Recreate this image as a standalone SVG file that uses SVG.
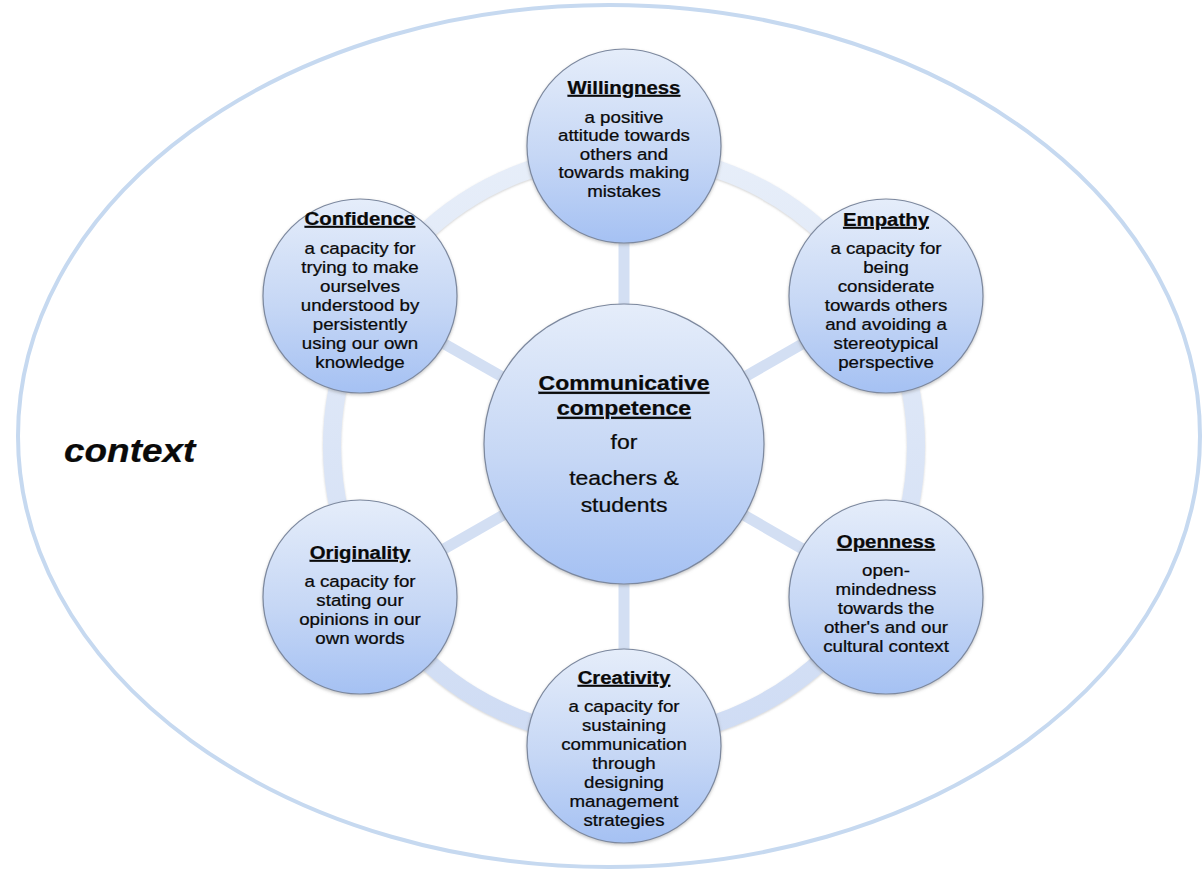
<svg xmlns="http://www.w3.org/2000/svg" width="1204" height="877" viewBox="0 0 1204 877">
<defs>
<linearGradient id="ball" x1="0" y1="0" x2="0" y2="1">
<stop offset="0" stop-color="#e5edfa"/>
<stop offset="0.55" stop-color="#c6d7f5"/>
<stop offset="1" stop-color="#a5c1f3"/>
</linearGradient>
<linearGradient id="ringg" gradientUnits="userSpaceOnUse" x1="0" y1="150" x2="0" y2="740">
<stop offset="0" stop-color="#e7eef9"/>
<stop offset="1" stop-color="#cfdcf4"/>
</linearGradient>
<filter id="sh" x="-10%" y="-10%" width="120%" height="120%">
<feDropShadow dx="0" dy="1.5" stdDeviation="1.5" flood-color="#7a7a7a" flood-opacity="0.45"/>
</filter>
<filter id="rsh" x="-10%" y="-10%" width="120%" height="120%">
<feDropShadow dx="0" dy="1" stdDeviation="1.2" flood-color="#8a8a8a" flood-opacity="0.4"/>
</filter>
</defs>
<style>
.ball{fill:url(#ball);stroke:#7c889e;stroke-width:1.2;filter:url(#sh)}
.spoke{stroke:#d3dff3;stroke-width:11;fill:none}
text{font-family:"Liberation Sans",Arial,sans-serif;fill:#0a0a0a;stroke:#0a0a0a;stroke-width:0.25;text-anchor:middle}
.t{font-weight:bold;font-size:18.5px;text-decoration:underline}
.b{font-size:17px}
.ct{font-weight:bold;font-size:20.5px;text-decoration:underline}
.cb{font-size:20.5px}
</style>
<rect width="1204" height="877" fill="#fff"/>
<ellipse cx="609" cy="436" rx="591" ry="431" fill="none" stroke="#c6d9f0" stroke-width="4"/>
<g id="context" transform="translate(64 0) scale(1.12 1)">
<text x="0" y="462" style="font-size:33px;font-weight:bold;font-style:italic;text-anchor:start">context</text>
</g>
<g id="connectors">
<circle cx="624" cy="446" r="292" fill="none" stroke="url(#ringg)" stroke-width="18" filter="url(#rsh)"/>
<line class="spoke" x1="624" y1="446" x2="624" y2="146"/>
<line class="spoke" x1="624" y1="446" x2="886" y2="296"/>
<line class="spoke" x1="624" y1="446" x2="886" y2="597"/>
<line class="spoke" x1="624" y1="446" x2="624" y2="746"/>
<line class="spoke" x1="624" y1="446" x2="360" y2="597"/>
<line class="spoke" x1="624" y1="446" x2="360" y2="296"/>
</g>
<g id="center">
<circle class="ball" cx="624" cy="444" r="140"/>
<g transform="translate(624 0) scale(1.12 1)">
<text class="ct" x="0" y="390">Communicative</text>
<text class="ct" x="0" y="415">competence</text>
<text class="cb" x="0" y="449">for</text>
<text class="cb" x="0" y="485">teachers &amp;</text>
<text class="cb" x="0" y="512">students</text>
</g>
</g>
<g id="willingness">
<circle class="ball" cx="624" cy="146" r="97"/>
<g transform="translate(624 0) scale(1.1 1)">
<text class="t" x="0" y="94">Willingness</text>
<text class="b" x="0" y="123">a positive</text>
<text class="b" x="0" y="141.5">attitude towards</text>
<text class="b" x="0" y="160">others and</text>
<text class="b" x="0" y="178.5">towards making</text>
<text class="b" x="0" y="197">mistakes</text>
</g>
</g>
<g id="empathy">
<circle class="ball" cx="886" cy="296" r="97"/>
<g transform="translate(886 0) scale(1.1 1)">
<text class="t" x="0" y="226">Empathy</text>
<text class="b" x="0" y="254">a capacity for</text>
<text class="b" x="0" y="273">being</text>
<text class="b" x="0" y="292">considerate</text>
<text class="b" x="0" y="311">towards others</text>
<text class="b" x="0" y="330">and avoiding a</text>
<text class="b" x="0" y="349">stereotypical</text>
<text class="b" x="0" y="368">perspective</text>
</g>
</g>
<g id="openness">
<circle class="ball" cx="886" cy="597" r="97"/>
<g transform="translate(886 0) scale(1.1 1)">
<text class="t" x="0" y="548">Openness</text>
<text class="b" x="0" y="576">open-</text>
<text class="b" x="0" y="595">mindedness</text>
<text class="b" x="0" y="614">towards the</text>
<text class="b" x="0" y="633">other's and our</text>
<text class="b" x="0" y="652">cultural context</text>
</g>
</g>
<g id="creativity">
<circle class="ball" cx="624" cy="746" r="97"/>
<g transform="translate(624 0) scale(1.1 1)">
<text class="t" x="0" y="684">Creativity</text>
<text class="b" x="0" y="712">a capacity for</text>
<text class="b" x="0" y="731">sustaining</text>
<text class="b" x="0" y="750">communication</text>
<text class="b" x="0" y="769">through</text>
<text class="b" x="0" y="788">designing</text>
<text class="b" x="0" y="807">management</text>
<text class="b" x="0" y="826">strategies</text>
</g>
</g>
<g id="originality">
<circle class="ball" cx="360" cy="597" r="97"/>
<g transform="translate(360 0) scale(1.1 1)">
<text class="t" x="0" y="559">Originality</text>
<text class="b" x="0" y="587">a capacity for</text>
<text class="b" x="0" y="606">stating our</text>
<text class="b" x="0" y="625">opinions in our</text>
<text class="b" x="0" y="644">own words</text>
</g>
</g>
<g id="confidence">
<circle class="ball" cx="360" cy="296" r="97"/>
<g transform="translate(360 0) scale(1.1 1)">
<text class="t" x="0" y="225">Confidence</text>
<text class="b" x="0" y="254">a capacity for</text>
<text class="b" x="0" y="273">trying to make</text>
<text class="b" x="0" y="292">ourselves</text>
<text class="b" x="0" y="311">understood by</text>
<text class="b" x="0" y="330">persistently</text>
<text class="b" x="0" y="349">using our own</text>
<text class="b" x="0" y="368">knowledge</text>
</g>
</g>
</svg>
